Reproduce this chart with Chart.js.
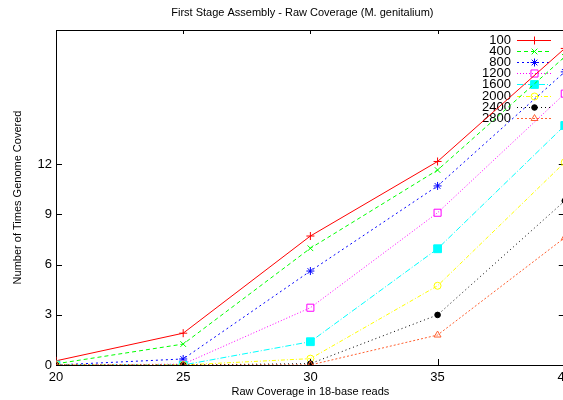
<!DOCTYPE html>
<html>
<head>
<meta charset="utf-8">
<script src="https://cdn.jsdelivr.net/npm/chart.js@4/dist/chart.umd.min.js"></script>
<style>
html,body{margin:0;padding:0;background:#fff;}
#wrap{width:563px;height:400px;overflow:hidden;position:relative;}
canvas{display:block;}
</style>
</head>
<body>
<div id="wrap"><canvas id="c" width="577" height="400"></canvas></div>
<script>
// ---- data ----
const chartTitle = "First Stage Assembly - Raw Coverage (M. genitalium)";
const xTitle = "Raw Coverage in 18-base reads";
const yTitle = "Number of Times Genome Covered";
const coverage = [20, 25, 30, 35, 40];
const xTicks = [20, 25, 30, 35, 40];
const yTicks = [0, 3, 6, 9, 12];
const seriesLabels = ["100", "400", "800", "1200", "1600", "2000", "2400", "2800"];
const s100  = [0.25, 1.90, 7.70, 12.15, 18.90];
const s400  = [0.07, 1.25, 6.97, 11.64, 18.40];
const s800  = [0.00, 0.36, 5.61, 10.69, 17.50];
const s1200 = [0.00, 0.05, 3.42, 9.09, 16.20];
const s1600 = [0.00, 0.00, 1.39, 6.94, 14.30];
const s2000 = [0.00, 0.00, 0.38, 4.73, 12.10];
const s2400 = [0.00, 0.00, 0.08, 2.99, 9.80];
const s2800 = [0.00, 0.00, 0.00, 1.79, 7.60];
const seriesValues = [s100, s400, s800, s1200, s1600, s2000, s2400, s2800];

// ---- styles ----
const styles = [
  {color:'#ff0000', dash:[], pt:'cross', r:4, fill:false},
  {color:'#00ff00', dash:[4,3], pt:'crossRot', r:4, fill:false},
  {color:'#0000ff', dash:[2,3], pt:'star', r:4, fill:false},
  {color:'#ff00ff', dash:[1,2], pt:'rect', r:5, fill:false},
  {color:'#00ffff', dash:[6,2,1,2], pt:'rect', r:5.5, fill:true},
  {color:'#ffff00', dash:[4,2,1,2], pt:'circle', r:3.5, fill:false},
  {color:'#000000', dash:[1,3], pt:'circle', r:2.8, fill:true},
  {color:'#ff6030', dash:[2,2], pt:'triangle', r:4, fill:false}
];

const datasets = seriesLabels.map((lab, i) => {
  const st = styles[i];
  return {
    label: lab,
    data: coverage.map((x, j) => ({x: x, y: seriesValues[i][j]})),
    borderColor: st.color,
    borderWidth: 1,
    borderDash: st.dash,
    pointStyle: st.pt,
    pointRadius: st.r,
    pointHoverRadius: st.r,
    pointBorderColor: st.color,
    pointBorderWidth: 1,
    pointBackgroundColor: st.fill ? st.color : 'rgba(0,0,0,0)',
    fill: false,
    tension: 0,
    order: seriesLabels.length - i
  };
});

const FONT = "'Liberation Sans', Arial, sans-serif";

const framePlugin = {
  id: 'frame',
  beforeDatasetsDraw(chart) {
    const {ctx, chartArea: a, scales} = chart;
    ctx.save();
    ctx.strokeStyle = '#000';
    ctx.lineWidth = 1;
    ctx.strokeRect(Math.round(a.left) + 0.5, Math.round(a.top) + 0.5,
                   Math.round(a.right - a.left), Math.round(a.bottom - a.top));
    // inward ticks, mirrored
    const tl = 6, tlm = 4;
    ctx.beginPath();
    yTicks.forEach(v => {
      const y = Math.round(scales.y.getPixelForValue(v)) + 0.5;
      ctx.moveTo(a.left, y); ctx.lineTo(a.left + tl, y);
      ctx.moveTo(a.right, y); ctx.lineTo(a.right - tl, y);
    });
    xTicks.forEach(v => {
      const x = Math.round(scales.x.getPixelForValue(v)) + 0.5;
      ctx.moveTo(x, a.bottom); ctx.lineTo(x, a.bottom - tl);
      ctx.moveTo(x, a.top); ctx.lineTo(x, a.top + tlm);
    });
    ctx.stroke();
    // title
    ctx.fillStyle = '#000';
    ctx.font = '11px ' + FONT;
    ctx.textAlign = 'center';
    ctx.textBaseline = 'middle';
    ctx.fillText(chartTitle, (a.left + a.right) / 2 - 8, 13);
    // legend (gnuplot style: text, then sample)
    const textRight = 511, sx0 = 517, sx1 = 551, y0 = 40, dy = 11.1;
    ctx.font = '13px ' + FONT;
    ctx.textAlign = 'right';
    chart.data.datasets.forEach((ds, i) => {
      const y = Math.round(y0 + i * dy) + 0.5;
      ctx.fillStyle = '#000';
      ctx.fillText(ds.label, textRight, y);
      ctx.save();
      ctx.strokeStyle = ds.borderColor;
      ctx.lineWidth = 1;
      ctx.setLineDash(ds.borderDash);
      ctx.beginPath();
      ctx.moveTo(sx0, y);
      ctx.lineTo(sx1, y);
      ctx.stroke();
      ctx.setLineDash([]);
      ctx.fillStyle = ds.pointBackgroundColor;
      ctx.strokeStyle = ds.pointBorderColor;
      Chart.helpers.drawPoint(ctx, {
        pointStyle: ds.pointStyle,
        radius: ds.pointRadius,
        borderWidth: 1,
        rotation: 0
      }, Math.round((sx0 + sx1) / 2) + 0.5, y);
      ctx.restore();
    });
    ctx.restore();
  }
};

new Chart(document.getElementById('c'), {
  type: 'line',
  data: { datasets: datasets },
  options: {
    responsive: false,
    animation: false,
    devicePixelRatio: 1,
    layout: { padding: { top: 30, left: 0, right: 0, bottom: 0 } },
    plugins: { legend: { display: false }, title: { display: false }, tooltip: { enabled: false } },
    scales: {
      x: {
        type: 'linear',
        min: 20, max: 40,
        grid: { display: false, drawTicks: false },
        border: { display: false },
        afterBuildTicks: s => { s.ticks = xTicks.map(v => ({value: v})); },
        afterFit: s => { s.height = 35; },
        ticks: { color: '#000', font: { family: FONT, size: 13 }, padding: 5, maxRotation: 0, autoSkip: false },
        title: { display: true, text: xTitle, color: '#000', font: { family: FONT, size: 11 }, padding: { top: 0, bottom: 1.5 } }
      },
      y: {
        type: 'linear',
        min: 0, max: 20,
        grid: { display: false, drawTicks: false },
        border: { display: false },
        afterBuildTicks: s => { s.ticks = yTicks.map(v => ({value: v})); },
        afterFit: s => { s.width = 56; },
        ticks: { color: '#000', font: { family: FONT, size: 13 }, padding: 4 },
        title: { display: true, text: yTitle, color: '#000', font: { family: FONT, size: 11 }, padding: { top: 11, bottom: 0 } }
      }
    }
  },
  plugins: [framePlugin]
});
</script>
</body>
</html>
